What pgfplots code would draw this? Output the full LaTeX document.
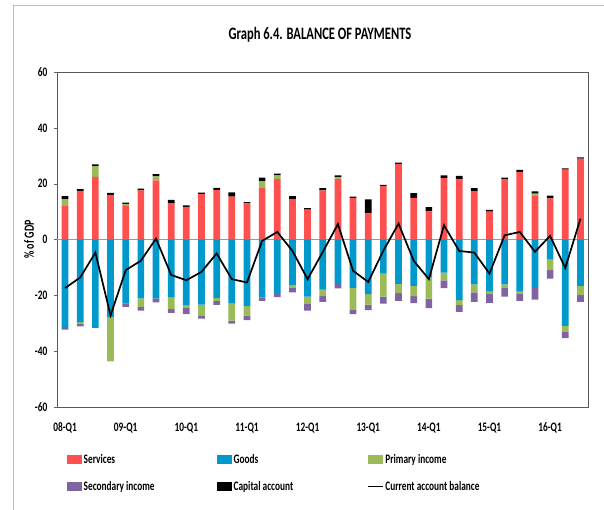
\documentclass[border=0pt]{standalone}
\usepackage{fontspec}
\setmainfont{Carlito}[FakeStretch=0.72]
\usepackage{pgfplots}
\usepackage{pgfplotstable}
\pgfplotsset{compat=1.18}

\definecolor{services}{RGB}{255,80,80}
\definecolor{goods}{RGB}{0,153,204}
\definecolor{primary}{RGB}{155,187,89}
\definecolor{secondary}{RGB}{128,100,162}

% quarters 08-Q1 .. 16-Q3, % of GDP
% primary income split in its positive and negative part
\pgfplotstableread{
q serv goods primpos primneg sec cap cab
0 12.2 -31.3 2.3 0 -1.0 1.0 -17.4
1 17.4 -29.6 0 -0.6 -0.9 0.6 -13.6
2 22.4 -31.7 3.9 0 0 0.6 -4.7
3 16.0 -27.7 0 -16.0 0 0.7 -27.2
4 12.0 -23.0 0.7 0 -1.1 0.5 -11.0
5 17.6 -21.1 0 -3.0 -1.4 0.6 -7.6
6 21.2 -21.1 1.4 0 -1.4 0.8 0.3
7 13.0 -20.6 0 -4.3 -1.4 1.2 -12.7
8 11.7 -23.5 0 -1.0 -2.2 0.5 -14.6
9 16.3 -23.3 0 -4.1 -0.9 0.5 -11.6
10 17.8 -21.0 0 -1.0 -1.4 0.7 -5.0
11 15.4 -22.8 0 -6.3 -1.0 1.5 -14.2
12 12.9 -23.9 0 -3.4 -1.6 0.5 -15.4
13 18.7 -20.8 2.2 0 -1.2 1.3 -0.5
14 21.6 -19.2 1.4 0 -1.4 0.6 2.7
15 14.5 -16.4 0 -0.9 -1.6 1.0 -4.1
16 10.7 -20.5 0 -2.6 -2.4 0.5 -14.2
17 17.6 -18.0 0 -2.3 -2.0 0.8 -4.5
18 21.6 -15.9 0.7 0 -1.6 0.7 5.5
19 14.9 -17.3 0 -7.9 -1.5 0.5 -11.2
20 9.4 -19.6 0 -3.7 -2.0 5.0 -15.2
21 19.2 -12.2 0 -8.3 -2.5 0.4 -4.0
22 27.1 -15.9 0 -3.3 -2.8 0.4 5.7
23 14.9 -16.6 0 -3.7 -2.5 1.7 -7.6
24 10.1 -13.4 0 -7.8 -3.4 1.5 -14.2
25 22.0 -11.9 0 -2.7 -2.8 1.0 5.1
26 21.5 -21.7 0 -1.8 -2.4 1.3 -4.1
27 17.3 -16.1 0 -2.8 -3.4 1.1 -4.7
28 10.0 -18.7 0 -0.8 -3.2 0.6 -12.2
29 21.6 -16.1 0 -1.2 -3.2 0.6 1.5
30 24.2 -18.7 0 -0.6 -2.7 0.7 2.7
31 15.8 -17.3 0.6 0 -4.2 0.8 -4.4
32 14.7 -7.0 0 -4.0 -3.0 1.0 1.3
33 25.0 -30.9 0 -2.2 -2.2 0.5 -10.2
34 29.0 -16.6 0 -3.3 -2.4 0.4 7.4
}\bop

\pgfplotsset{
  baseaxis/.style={
    scale only axis, width=530.5bp, height=335bp,
    at={(57.5bp,103bp)}, anchor=south west,
    xmin=-0.5, xmax=34.5, ymin=-60, ymax=60,
  },
  barlegend/.style={legend image code/.code={\fill[##1] (0bp,-4.5bp) rectangle (15bp,4.5bp);}},
  linelegend/.style={legend image code/.code={\draw[##1] (0bp,0bp) -- (15bp,0bp);}},
}
\newcommand{\lab}{\bfseries\fontsize{13}{15}\selectfont}

\begin{document}
\begin{tikzpicture}
\path[use as bounding box] (0,0) rectangle (604bp,510bp);
\draw[black!25, line width=1bp] (13bp,0bp) -- (13bp,504bp) -- (604bp,504bp);
\node[font=\bfseries\fontsize{17.5}{20}\selectfont] at (320bp,475bp) {Graph 6.4. BALANCE OF PAYMENTS};

% positive side of the stack, plus the frame and the ticks
\begin{axis}[baseaxis,
    ybar stacked, bar width=6.7bp,
    axis line style={black!65, line width=0.9bp},
    ytick={-60,-40,...,60},
    ytick pos=left, tick align=outside,
    major tick length=3bp,
    ytick style={black!60},
    xtick={0,4,...,32},
    xticklabels={08-Q1,09-Q1,10-Q1,11-Q1,12-Q1,13-Q1,14-Q1,15-Q1,16-Q1},
    xtick style={draw=none},
    /pgf/number format/assume math mode=true,
    ticklabel style={font=\lab},
    yticklabel style={inner sep=0pt, xshift=-7bp},
    xticklabel style={anchor=base, inner sep=0pt, yshift=-22bp},
    ylabel={\% of GDP},
    ylabel style={font=\bfseries\fontsize{14}{16}\selectfont, at={(axis description cs:-0.0537,0.5)}, anchor=center},
    extra y ticks={0}, extra y tick labels={},
    extra y tick style={ymajorgrids=true, major tick length=0bp, major grid style={black!40, line width=0.9bp}},
]
\addplot[fill=services, draw=none] table[x=q, y=serv] {\bop};
\addplot[fill=primary, draw=none] table[x=q, y=primpos] {\bop};
\addplot[fill=black, draw=none] table[x=q, y=cap] {\bop};
\end{axis}

% negative side of the stack
\begin{axis}[baseaxis, hide axis, ybar stacked, bar width=6.7bp]
\addplot[fill=goods, draw=none] table[x=q, y=goods] {\bop};
\addplot[fill=primary, draw=none] table[x=q, y=primneg] {\bop};
\addplot[fill=secondary, draw=none] table[x=q, y=sec] {\bop};
\end{axis}

% current account balance and the legend
\begin{axis}[baseaxis, hide axis,
    legend style={at={(0,0)}, anchor=north west, xshift=9.5bp, yshift=-46bp,
      draw=none, fill=none, inner sep=0pt, legend columns=3,
      /tikz/every even column/.append style={column sep=2bp},
      /tikz/row sep=13bp,
      nodes={inner sep=1.5bp, text width=130bp, align=flush left, font=\lab}},
    legend cell align=left,
]
\addlegendimage{barlegend, fill=services, draw=none}
\addlegendimage{barlegend, fill=goods, draw=none}
\addlegendimage{barlegend, fill=primary, draw=none}
\addlegendimage{barlegend, fill=secondary, draw=none}
\addlegendimage{barlegend, fill=black, draw=none}
\addplot[linelegend, black, line width=1.7bp, sharp plot, mark=none] table[x=q, y=cab] {\bop};
\legend{Services, Goods, Primary income, Secondary income, Capital account, Current account balance}
\end{axis}
\end{tikzpicture}
\end{document}
